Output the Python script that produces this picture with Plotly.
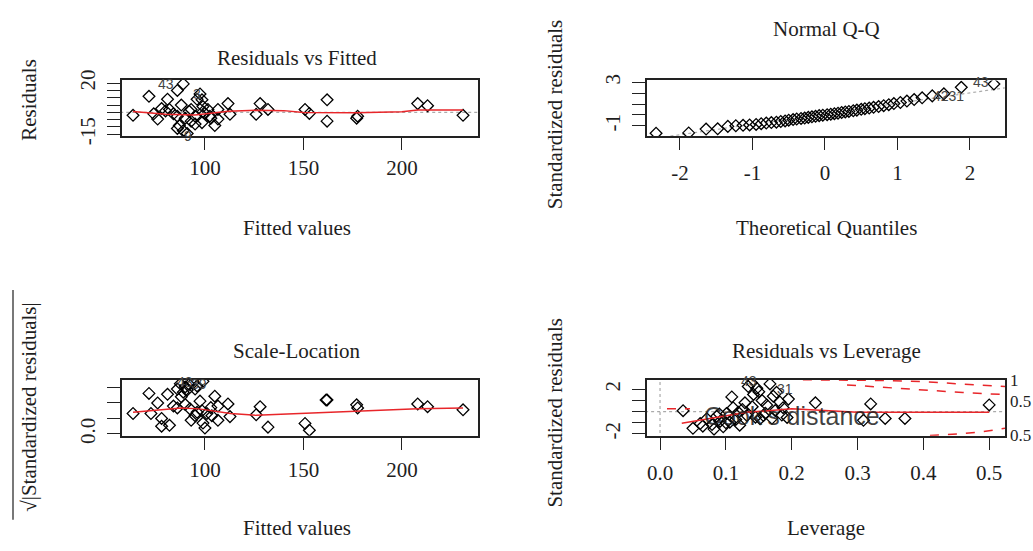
import plotly.graph_objects as go

W, H = 1033, 551
def fx(px): return px / W
def fy(py): return 1 - py / H

# ---------------- data ----------------
# Residuals vs Fitted
fitted_1 = [63.5, 71.6, 74, 76, 78, 80, 81, 82, 86, 89, 86, 87, 86, 89, 91, 92, 93, 95, 96, 93,
            97.5, 98.5, 99, 98.5, 100, 101.5, 102.5, 105, 106.6, 106.6, 111.7, 112.7, 126, 128, 132,
            150.8, 153, 162, 162, 177, 177.5, 208, 213, 231, 90, 95, 88, 84, 99, 103]
resid_1 = [-2, 11, -1, -4.6, 2.6, 1, 9, 2, 15, 19.5, -2.6, -9, -11, -12.6, -14.5, 0.7, -6, -2.6, 9, 2,
           12.6, 8.6, 4, -7, -0.7, 2, -2.6, -9, 2, -4.6, 6, -1.3, -1.3, 6, 2,
           2, -0.7, 8.6, -6, -4, -2.6, 6, 4.6, -2, -4, -8, 5, -1, 0.5, -4]
smooth1_x = [63.5, 80, 95, 105, 112, 126, 140, 150, 177, 200, 208, 231]
smooth1_y = [0.6, -1.2, -1.8, -0.4, 0.8, 1.4, 1.2, 0.0, -0.3, 0.5, 1.6, 1.6]

# Normal Q-Q
theo_q = [-2.33, -1.88, -1.64, -1.48, -1.34, -1.23, -1.13, -1.04, -0.95, -0.88, -0.81, -0.74, -0.67,
          -0.61, -0.55, -0.50, -0.44, -0.39, -0.33, -0.28, -0.23, -0.18, -0.13, -0.08, -0.03,
          0.03, 0.08, 0.13, 0.18, 0.23, 0.28, 0.33, 0.39, 0.44, 0.50, 0.55, 0.61, 0.67, 0.74,
          0.81, 0.88, 0.95, 1.04, 1.13, 1.23, 1.34, 1.48, 1.64, 1.88, 2.33]
std_res = [-1.68, -1.65, -1.30, -1.27, -1.05, -0.99, -0.95, -0.92, -0.87, -0.80, -0.74, -0.70, -0.66,
           -0.60, -0.55, -0.48, -0.42, -0.37, -0.32, -0.28, -0.22, -0.17, -0.12, -0.06, -0.02,
           0.03, 0.07, 0.12, 0.17, 0.23, 0.28, 0.33, 0.39, 0.45, 0.52, 0.58, 0.64, 0.71, 0.78,
           0.86, 0.95, 1.05, 1.15, 1.28, 1.42, 1.58, 1.76, 1.95, 2.55, 2.85]
qqline_x = [-2.46, 2.48]
qqline_y = [-2.26, 2.50]

# Scale-Location
fitted_3 = [63.5, 71.6, 72.6, 76, 78, 78, 81, 82, 86, 86, 87.5, 90, 91, 92, 94, 96, 99, 95, 89, 92.4,
            93, 95, 97.5, 98.5, 100, 101, 103.5, 105, 106.6, 106.6, 111.7, 112.7, 126, 128, 132,
            150.8, 153, 161.5, 162, 177, 177.5, 208, 213, 231, 90, 96, 88, 84, 99, 103]
sqrt_res = [0.66, 1.31, 0.66, 1.0, 0.5, 0.25, 1.28, 0.28, 0.84, 1.45, 1.62, 1.52, 1.42, 1.6, 1.65, 1.55,
            1.7, 1.45, 1.35, 0.81, 0.44, 0.59, 1.06, 0.75, 0.19, 0.66, 0.59, 1.22, 0.9, 0.44, 0.97,
            0.56, 0.62, 0.88, 0.22, 0.34, 0.12, 1.1, 1.1, 0.94, 0.84, 0.97, 0.88, 0.78, 0.95, 0.7,
            1.2, 0.9, 0.35, 0.85]
smooth3_x = [63.5, 88, 97, 113, 126, 148, 184, 208, 231]
smooth3_y = [0.70, 0.84, 0.81, 0.66, 0.60, 0.66, 0.75, 0.81, 0.84]

# Residuals vs Leverage
leverage = [0.035, 0.05, 0.061, 0.071, 0.079, 0.082, 0.086, 0.091, 0.096, 0.101, 0.106, 0.109, 0.111,
            0.119, 0.121, 0.129, 0.132, 0.134, 0.139, 0.142, 0.147, 0.152, 0.157, 0.162, 0.167, 0.172,
            0.177, 0.182, 0.187, 0.193, 0.195, 0.236, 0.309, 0.320, 0.342, 0.372, 0.5, 0.065, 0.09,
            0.115, 0.125, 0.145, 0.155, 0.16, 0.175, 0.185, 0.1, 0.14, 0.17, 0.15]
std_res_4 = [0.09, -1.5, -1.07, -0.63, -1.16, -1.57, -0.41, -0.88, -1.36, -0.17, -0.94, 1.33, 0.36,
             -0.06, -1.22, 0.8, -0.35, 2.26, 2.6, 1.55, 2.1, -0.63, -0.35, 0.6, 2.5, 1.39, 1.74, 0.87,
             0.36, -0.52, 1.13, 0.8, -0.78, 0.7, -0.61, -0.61, 0.61, -1.3, -0.2, -0.7, 0.2, -0.5, 1.0,
             -0.15, 0.1, -0.3, -1.0, 0.45, -0.6, 1.8]
smooth4_x = [0.033, 0.087, 0.132, 0.2, 0.3, 0.44, 0.5]
smooth4_y = [-1.04, -0.52, -0.06, 0.26, -0.06, -0.06, -0.05]
cook1_h = [0.217, 0.35, 0.40, 0.45, 0.50, 0.524]
cook1_up = [2.87, 2.80, 2.70, 2.55, 2.35, 2.26]
cook05_h = [0.284, 0.354, 0.405, 0.46, 0.524]
cook05_up = [2.41, 2.11, 1.91, 1.72, 1.54]
cook05_lo_h = [0.41, 0.456, 0.49, 0.524]
cook05_lo = [-2.15, -2.0, -1.8, -1.5]

# --------------- figure ----------------
TXT = "#1e1e1e"
SERIF = "Liberation Serif"
SANS = "Liberation Sans"
FS = 21

fig = go.Figure()
mk = dict(symbol="diamond-open", size=9, color="black", line=dict(width=1.3, color="black"))
red = dict(color="#e8262a", width=1.5)
grey_dot = dict(color="#aaaaaa", width=1.2, dash="dot")

# panel 1
fig.add_trace(go.Scatter(x=[57, 240], y=[0, 0], mode="lines", line=grey_dot, xaxis="x", yaxis="y"))
fig.add_trace(go.Scatter(x=fitted_1, y=resid_1, mode="markers", marker=mk, xaxis="x", yaxis="y"))
fig.add_trace(go.Scatter(x=smooth1_x, y=smooth1_y, mode="lines", line=red, xaxis="x", yaxis="y"))
# panel 2
fig.add_trace(go.Scatter(x=qqline_x, y=qqline_y, mode="lines", line=grey_dot, xaxis="x2", yaxis="y2"))
fig.add_trace(go.Scatter(x=theo_q, y=std_res, mode="markers", marker=mk, xaxis="x2", yaxis="y2"))
# panel 3
fig.add_trace(go.Scatter(x=fitted_3, y=sqrt_res, mode="markers", marker=mk, xaxis="x3", yaxis="y3"))
fig.add_trace(go.Scatter(x=smooth3_x, y=smooth3_y, mode="lines", line=red, xaxis="x3", yaxis="y3"))
# panel 4
fig.add_trace(go.Scatter(x=[-0.05, 0.6], y=[0, 0], mode="lines", line=grey_dot, xaxis="x4", yaxis="y4"))
fig.add_trace(go.Scatter(x=[0, 0], y=[-3, 3], mode="lines", line=grey_dot, xaxis="x4", yaxis="y4"))
fig.add_trace(go.Scatter(x=leverage, y=std_res_4, mode="markers", marker=mk, xaxis="x4", yaxis="y4"))
fig.add_trace(go.Scatter(x=smooth4_x, y=smooth4_y, mode="lines", line=red, xaxis="x4", yaxis="y4"))
dash_red = dict(color="#e8262a", width=1.5, dash="dash")
fig.add_trace(go.Scatter(x=cook1_h, y=cook1_up, mode="lines", line=dash_red, xaxis="x4", yaxis="y4"))
fig.add_trace(go.Scatter(x=cook05_h, y=cook05_up, mode="lines", line=dash_red, xaxis="x4", yaxis="y4"))
fig.add_trace(go.Scatter(x=cook05_lo_h, y=cook05_lo, mode="lines", line=dash_red, xaxis="x4", yaxis="y4"))


def axis(domain, rng, tickvals, ticktext, anchor, tickangle=0, ticklen=12, standoff=2):
    return dict(domain=domain, range=rng, tickvals=tickvals, ticktext=ticktext, anchor=anchor,
                showline=True, mirror=True, linecolor="#222", linewidth=1.5,
                ticks="outside", ticklen=ticklen, tickwidth=1.3, tickcolor="#222",
                showgrid=False, zeroline=False, tickangle=tickangle,
                ticklabelstandoff=standoff,
                tickfont=dict(family=SERIF, size=FS, color=TXT), fixedrange=True)

xL = [fx(122), fx(478)]
xR = [fx(647), fx(1005)]
yT = [fy(131), fy(72)]
yB = [fy(441), fy(383)]

fit_ticks = [100, 150, 200]
fit_text = ["100", "150", "200"]
qq_ticks = [-2, -1, 0, 1, 2]
qq_text = ["-2", "-1", "0", "1", "2"]
lev_ticks = [0.0, 0.1, 0.2, 0.3, 0.4, 0.5]
lev_text = ["0.0", "0.1", "0.2", "0.3", "0.4", "0.5"]

fig.update_layout(
    width=W, height=H, margin=dict(l=0, r=0, t=0, b=0),
    paper_bgcolor="white", plot_bgcolor="white", showlegend=False,
    xaxis=axis(xL, [57.9, 238.6], fit_ticks, fit_text, "y", standoff=0),
    yaxis=axis(yT, [-16.5, 22.5], [-15, -10, -5, 0, 5, 10, 15, 20],
               ["-15", "", "", "", "", "", "", "20"], "x", tickangle=-90, ticklen=13, standoff=4),
    xaxis2=axis(xR, [-2.455, 2.483], qq_ticks, qq_text, "y2", standoff=5),
    yaxis2=axis([fy(131), fy(73)], [-1.98, 3.18], [-1, 0, 1, 2, 3],
                ["-1", "", "", "", "3"], "x2", tickangle=-90, ticklen=13, standoff=4),
    xaxis3=axis(xL, [57.9, 238.6], fit_ticks, fit_text, "y3"),
    yaxis3=axis(yB, [-0.06, 1.75], [0.0, 0.5, 1.0, 1.5], ["0.0", "", "", ""], "x3",
                tickangle=-90, ticklen=13, standoff=4),
    xaxis4=axis(xR, [-0.0198, 0.524], lev_ticks, lev_text, "y4", standoff=5),
    yaxis4=axis(yB, [-2.17, 2.87], [-2, -1, 0, 1, 2], ["-2", "", "", "", "2"], "x4",
                tickangle=-90, ticklen=13, standoff=4),
)

ann = []
def ptext(x, y, t, size=FS, angle=0, family=SERIF, color=TXT):
    ann.append(dict(x=fx(x), y=fy(y), xref="paper", yref="paper", text=t, showarrow=False,
                    textangle=angle, font=dict(family=family, size=size, color=color),
                    xanchor="center", yanchor="middle"))

ptext(297, 50, "Residuals vs Fitted")
ptext(826, 20, "Normal Q-Q")
ptext(297, 353, "Scale-Location")
ptext(826, 353, "Residuals vs Leverage")
ptext(297, 226, "Fitted values")
ptext(826, 226, "Theoretical Quantiles")
ptext(297, 537, "Fitted values")
ptext(826, 537, "Leverage")
ptext(29, 93, "Residuals", angle=-90)
ptext(555, 108, "Standardized residuals", angle=-90)
ptext(29, 412, "√|Standardized residuals|", angle=-90)
ptext(555, 417, "Standardized residuals", angle=-90)
ptext(792, 420, "Cook's distance", size=25, family=SANS, color="rgba(30,30,30,0.85)")

# right margin Cook's labels
for t, y in [("1", 384), ("0.5", 405), ("0.5", 441)]:
    ann.append(dict(x=fx(1008), y=fy(y), xref="paper", yref="paper", text=t, showarrow=False,
                    font=dict(family=SERIF, size=17, color=TXT), xanchor="left", yanchor="middle"))

# point id labels
def idl(x, y, t, xr, yr, xa="center"):
    ann.append(dict(x=x, y=y, xref=xr, yref=yr, text=t, showarrow=False,
                    font=dict(family=SANS, size=14, color="#444"), xanchor=xa, yanchor="middle"))

idl(80, 19.2, "43", "x", "y")
idl(96, 12.6, "3", "x", "y")
idl(91.4, -16, "9", "x", "y")
idl(2.02, 3.0, "43", "x2", "y2", xa="left")
idl(1.95, 1.75, "4231", "x2", "y2", xa="right")
idl(0.15, 2.72, "43", "x4", "y4", xa="right")
idl(0.175, 2.0, "31", "x4", "y4", xa="left")
idl(90, 1.68, "43", "x3", "y3")
idl(97, 1.62, "39", "x3", "y3")

fig.update_layout(annotations=ann)

# legend dash segment for Cook's distance, and radical bar of y title
fig.add_shape(type="line", xref="paper", yref="paper", x0=fx(667), x1=fx(690), y0=fy(413), y1=fy(413),
              line=dict(color="#e8262a", width=1.5, dash="dash"))
fig.add_shape(type="line", xref="paper", yref="paper", x0=fx(13), x1=fx(13), y0=fy(290), y1=fy(528),
              line=dict(color=TXT, width=1.2))

fig.write_html("out.html")
